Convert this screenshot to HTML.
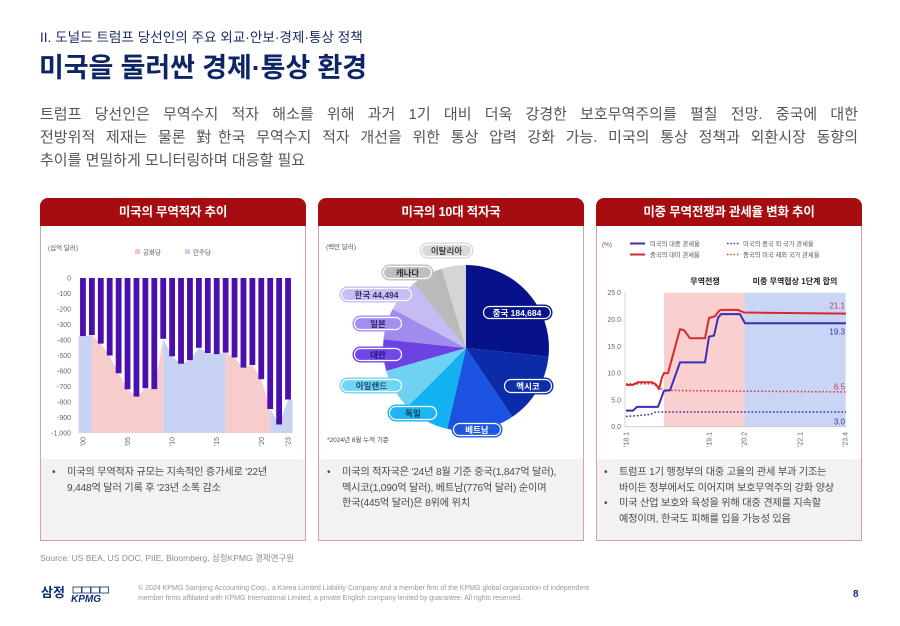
<!DOCTYPE html>
<html><head><meta charset="utf-8">
<style>
*{margin:0;padding:0;box-sizing:border-box}
body{width:900px;height:626px;background:#fff;position:relative;overflow:hidden;font-family:"Liberation Sans","Noto Sans CJK KR",sans-serif}
.abs{position:absolute}
.card{position:absolute;top:198px;width:266px;height:343px}
.card .hd{height:28px;background:#a50d10;border-radius:8px 8px 0 0;color:#fff;font-weight:bold;font-size:12.5px;line-height:28px;text-align:center;letter-spacing:-0.2px}
.card .bd{position:absolute;top:28px;left:0;right:0;bottom:0;border:1px solid #d9a0a0;border-top:none}
.card .gr{position:absolute;left:0;right:0;bottom:0;height:81px;background:#f2f2f2}
.bl{position:absolute;font-size:10.2px;line-height:15.5px;color:#4a4a4a;letter-spacing:-0.2px;white-space:nowrap}
.bl span.b{position:absolute;left:-15px}
.para div{white-space:nowrap}
</style></head><body>

<div class="abs" style="left:40px;top:29px;font-size:13.6px;line-height:18px;color:#1a2a66;white-space:nowrap;letter-spacing:0px">II. 도널드 트럼프 당선인의 주요 외교·안보·경제·통상 정책</div>
<div class="abs" style="left:39px;top:50px;font-size:27px;line-height:36px;color:#0d2566;font-weight:bold;white-space:nowrap;letter-spacing:-0.1px">미국을 둘러싼 경제·통상 환경</div>

<div class="abs para" style="left:40px;top:103px;width:818px;font-size:15px;line-height:23px;color:#555">
<div style="text-align:justify;text-align-last:justify;white-space:normal">트럼프 당선인은 무역수지 적자 해소를 위해 과거 1기 대비 더욱 강경한 보호무역주의를 펼칠 전망. 중국에 대한</div>
<div style="text-align:justify;text-align-last:justify;white-space:normal">전방위적 제재는 물론 對한국 무역수지 적자 개선을 위한 통상 압력 강화 가능. 미국의 통상 정책과 외환시장 동향의</div>
<div>추이를 면밀하게 모니터링하며 대응할 필요</div>
</div>

<div class="card" style="left:40px"><div class="hd">미국의 무역적자 추이</div><div class="bd"><div class="gr"></div></div></div>
<div class="card" style="left:318px"><div class="hd">미국의 10대 적자국</div><div class="bd"><div class="gr"></div></div></div>
<div class="card" style="left:596px"><div class="hd">미중 무역전쟁과 관세율 변화 추이</div><div class="bd"><div class="gr"></div></div></div>

<div class="bl" style="left:67px;top:465px"><span class="b">•</span>미국의 무역적자 규모는 지속적인 증가세로 '22년<br>9,448억 달러 기록 후 '23년 소폭 감소</div>
<div class="bl" style="left:342px;top:465px"><span class="b">•</span>미국의 적자국은 '24년 8월 기준 중국(1,847억 달러),<br>멕시코(1,090억 달러), 베트남(776억 달러) 순이며<br>한국(445억 달러)은 8위에 위치</div>
<div class="bl" style="left:619px;top:465px"><span class="b">•</span>트럼프 1기 행정부의 대중 고율의 관세 부과 기조는<br>바이든 정부에서도 이어지며 보호무역주의 강화 양상</div>
<div class="bl" style="left:619px;top:496px"><span class="b">•</span>미국 산업 보호와 육성을 위해 대중 견제를 지속할<br>예정이며, 한국도 피해를 입을 가능성 있음</div>

<div class="abs" style="left:40px;top:552px;font-size:8.5px;line-height:12px;color:#8c8c8c;white-space:nowrap">Source: US BEA, US DOC, PIIE, Bloomberg, 삼정KPMG 경제연구원</div>

<div class="abs" style="left:138px;top:584px;font-size:7.1px;line-height:9.8px;color:#9a9a9a;white-space:nowrap;letter-spacing:-0.05px">© 2024 KPMG Samjong Accounting Corp., a Korea Limited Liability Company and a member firm of the KPMG global organization of independent<br>member firms affiliated with KPMG International Limited, a private English company limited by guarantee. All rights reserved.</div>

<svg class="abs" style="left:0;top:0" width="900" height="626" viewBox="0 0 900 626" font-family="Liberation Sans, Noto Sans CJK KR, sans-serif">
<!-- Chart 1 -->
<g>
<path d="M78.5,433 L78.5,336.1 L82.96,336.1 L91.88,335.0 L91.88,433 Z" fill="#c8d2f2"/>
<path d="M91.88,433 L91.88,335.0 L100.79,343.6 L109.71,355.5 L118.63,373.3 L127.54,389.3 L136.46,396.6 L145.38,388.2 L154.29,389.1 L163.21,338.8 L163.21,433 Z" fill="#f7cccc"/>
<path d="M163.21,433 L163.21,338.8 L172.13,356.3 L181.04,363.7 L189.96,360.2 L198.88,347.8 L207.79,353.0 L216.71,354.1 L225.63,352.6 L225.63,433 Z" fill="#c8d2f2"/>
<path d="M225.63,433 L225.63,352.6 L234.54,357.5 L243.46,367.6 L252.38,365.0 L261.29,379.2 L270.21,409.0 L270.21,433 Z" fill="#f7cccc"/>
<path d="M270.21,433 L270.21,409.0 L279.13,424.5 L288.04,399.5 L292.5,399.5 L292.5,433 Z" fill="#c8d2f2"/>
<g fill="#4a0fad">
<rect x="80.06" y="278" width="5.8" height="58.1"/>
<rect x="88.98" y="278" width="5.8" height="57.0"/>
<rect x="97.89" y="278" width="5.8" height="65.6"/>
<rect x="106.81" y="278" width="5.8" height="77.5"/>
<rect x="115.73" y="278" width="5.8" height="95.3"/>
<rect x="124.64" y="278" width="5.8" height="111.3"/>
<rect x="133.56" y="278" width="5.8" height="118.6"/>
<rect x="142.48" y="278" width="5.8" height="110.2"/>
<rect x="151.39" y="278" width="5.8" height="111.1"/>
<rect x="160.31" y="278" width="5.8" height="60.8"/>
<rect x="169.23" y="278" width="5.8" height="78.3"/>
<rect x="178.14" y="278" width="5.8" height="85.7"/>
<rect x="187.06" y="278" width="5.8" height="82.2"/>
<rect x="195.98" y="278" width="5.8" height="69.8"/>
<rect x="204.89" y="278" width="5.8" height="75.0"/>
<rect x="213.81" y="278" width="5.8" height="76.1"/>
<rect x="222.73" y="278" width="5.8" height="74.6"/>
<rect x="231.64" y="278" width="5.8" height="79.5"/>
<rect x="240.56" y="278" width="5.8" height="89.6"/>
<rect x="249.48" y="278" width="5.8" height="87.0"/>
<rect x="258.39" y="278" width="5.8" height="101.2"/>
<rect x="267.31" y="278" width="5.8" height="131.0"/>
<rect x="276.23" y="278" width="5.8" height="146.5"/>
<rect x="285.14" y="278" width="5.8" height="121.5"/>
</g>
<g font-size="7" fill="#666" text-anchor="end">
<text x="71" y="280.5">0</text>
<text x="71" y="296">-100</text>
<text x="71" y="311.5">-200</text>
<text x="71" y="327">-300</text>
<text x="71" y="342.5">-400</text>
<text x="71" y="358">-500</text>
<text x="71" y="373.5">-600</text>
<text x="71" y="389">-700</text>
<text x="71" y="404.5">-800</text>
<text x="71" y="420">-900</text>
<text x="71" y="435.5">-1,000</text>
</g>
<g font-size="7" fill="#666" text-anchor="end">
<text transform="translate(85.5,437) rotate(-90)">'00</text>
<text transform="translate(130,437) rotate(-90)">'05</text>
<text transform="translate(174.6,437) rotate(-90)">'10</text>
<text transform="translate(219.2,437) rotate(-90)">'15</text>
<text transform="translate(263.8,437) rotate(-90)">'20</text>
<text transform="translate(290.5,437) rotate(-90)">'23</text>
</g>
<text x="48" y="250" font-size="6.5" fill="#555">(십억 달러)</text>
<rect x="135" y="249" width="5" height="5" fill="#f6c6c6"/>
<text x="143" y="254.5" font-size="6.5" fill="#555">공화당</text>
<rect x="185" y="249" width="5" height="5" fill="#c6d0f2"/>
<text x="193" y="254.5" font-size="6.5" fill="#555">민주당</text>
</g>

<!-- Chart 2 pie -->
<g>
<path d="M466,348 L466,265 A83,83 0 0 1 548.5,356.7 Z" fill="#06118a"/>
<path d="M466,348 L548.5,356.7 A83,83 0 0 1 512.4,416.8 Z" fill="#0b2ba8"/>
<path d="M466,348 L512.4,416.8 A83,83 0 0 1 447.3,428.9 Z" fill="#1b52e0"/>
<path d="M466,348 L447.3,428.9 A83,83 0 0 1 407.3,406.7 Z" fill="#12b2f0"/>
<path d="M466,348 L407.3,406.7 A83,83 0 0 1 386.2,370.9 Z" fill="#6fd2f3"/>
<path d="M466,348 L386.2,370.9 A83,83 0 0 1 383.5,339.3 Z" fill="#6c43e2"/>
<path d="M466,348 L383.5,339.3 A83,83 0 0 1 392.7,309.0 Z" fill="#a18bef"/>
<path d="M466,348 L392.7,309.0 A83,83 0 0 1 413.8,283.5 Z" fill="#c7bbf4"/>
<path d="M466,348 L413.8,283.5 A83,83 0 0 1 441.7,268.6 Z" fill="#bababa"/>
<path d="M466,348 L441.7,268.6 A83,83 0 0 1 466,265 Z" fill="#d5d5d5"/>
<g font-size="8.5" font-weight="bold" text-anchor="middle">
<rect x="420" y="243" width="53" height="15" rx="7.5" fill="#d9d9d9" stroke="#d9d9d9"/><rect x="421.5" y="244.5" width="50" height="12" rx="6" fill="none" stroke="#fff" stroke-width="1.2"/>
<text x="446.5" y="253.8" fill="#444">이탈리아</text>
<rect x="382" y="265" width="51" height="15" rx="7.5" fill="#bfbfbf" stroke="#bfbfbf"/><rect x="383.5" y="266.5" width="48" height="12" rx="6" fill="none" stroke="#fff" stroke-width="1.2"/>
<text x="407.5" y="275.8" fill="#333">캐나다</text>
<rect x="340" y="287" width="73" height="15" rx="7.5" fill="#c9bdf5" stroke="#c9bdf5"/><rect x="341.5" y="288.5" width="70" height="12" rx="6" fill="none" stroke="#fff" stroke-width="1.2"/>
<text x="376.5" y="297.8" fill="#3a2f6b">한국 44,494</text>
<rect x="353" y="316" width="50" height="15" rx="7.5" fill="#a48ef0" stroke="#a48ef0"/><rect x="354.5" y="317.5" width="47" height="12" rx="6" fill="none" stroke="#fff" stroke-width="1.2"/>
<text x="378" y="326.8" fill="#2e2070">일본</text>
<rect x="353" y="347" width="50" height="15" rx="7.5" fill="#7048e8" stroke="#7048e8"/><rect x="354.5" y="348.5" width="47" height="12" rx="6" fill="none" stroke="#fff" stroke-width="1.2"/>
<text x="378" y="357.8" fill="#2a1270">대만</text>
<rect x="340" y="378" width="63" height="15" rx="7.5" fill="#72d4f5" stroke="#72d4f5"/><rect x="341.5" y="379.5" width="60" height="12" rx="6" fill="none" stroke="#fff" stroke-width="1.2"/>
<text x="371.5" y="388.8" fill="#1d4a6a">아일랜드</text>
<rect x="388" y="405" width="50" height="16" rx="8" fill="#1db5f2" stroke="#1db5f2"/><rect x="389.5" y="406.5" width="47" height="13" rx="6.5" fill="none" stroke="#fff" stroke-width="1.2"/>
<text x="413" y="416.3" fill="#0b3a5a">독일</text>
<rect x="452" y="422" width="50" height="15" rx="7.5" fill="#1f56e0" stroke="#1f56e0"/><rect x="453.5" y="423.5" width="47" height="12" rx="6" fill="none" stroke="#fff" stroke-width="1.2"/>
<text x="477" y="432.8" fill="#fff">베트남</text>
<rect x="503" y="378" width="50" height="16" rx="8" fill="#0c2fa8" stroke="#0c2fa8"/><rect x="504.5" y="379.5" width="47" height="13" rx="6.5" fill="none" stroke="#fff" stroke-width="1.2"/>
<text x="528" y="389.3" fill="#fff">멕시코</text>
<rect x="482" y="305" width="70" height="15" rx="7.5" fill="#07148a" stroke="#07148a"/><rect x="483.5" y="306.5" width="67" height="12" rx="6" fill="none" stroke="#fff" stroke-width="1.2"/>
<text x="517" y="315.8" fill="#fff">중국 184,684</text>
</g>
<text x="326" y="249" font-size="6.5" fill="#555">(백만 달러)</text>
<text x="327" y="442" font-size="6.5" fill="#444">*2024년 8월 누적 기준</text>
</g>

<!-- Chart 3 -->
<g>
<rect x="664" y="292.7" width="80.3" height="134" fill="#f9cfcf"/>
<rect x="744.3" y="292.7" width="101.4" height="134" fill="#c9d5f5"/>
<line x1="625" y1="292" x2="625" y2="426.7" stroke="#c8c8c8" stroke-width="0.8"/>
<line x1="625" y1="426.7" x2="846" y2="426.7" stroke="#c8c8c8" stroke-width="0.8"/>
<g font-size="7" fill="#666" text-anchor="end">
<text x="621" y="295.2">25.0</text>
<text x="621" y="322">20.0</text>
<text x="621" y="348.8">15.0</text>
<text x="621" y="375.6">10.0</text>
<text x="621" y="402.4">5.0</text>
<text x="621" y="429.2">0.0</text>
</g>
<g font-size="7" fill="#666" text-anchor="end">
<text transform="translate(628.5,432) rotate(-90)">'18.1</text>
<text transform="translate(711.5,432) rotate(-90)">'19.1</text>
<text transform="translate(746.5,432) rotate(-90)">'20.2</text>
<text transform="translate(802.5,432) rotate(-90)">'22.1</text>
<text transform="translate(847.5,432) rotate(-90)">'23.4</text>
</g>
<polyline fill="none" stroke="#d8404f" stroke-width="1.6" stroke-dasharray="1.6,2" points="626,383.8 652,383.8 658,386.5 664,390.3 700,390.8 846,391.9"/>
<polyline fill="none" stroke="#3b2db8" stroke-width="1.6" stroke-dasharray="1.6,2" points="626,416.5 640,415.4 650,414.4 656,412 846,412"/>
<polyline fill="none" stroke="#d42b2b" stroke-width="2" stroke-linejoin="round" points="626,384.9 633,384.9 638,382.2 652,382.2 656,384.4 659,389.2 662,377.4 664,373.1 668,373.1 680,329.1 684,330.2 690,338.3 705,338.3 709,317.9 715,316.3 719,310.9 721,309.9 738,309.9 744,312.5 846,313.6"/>
<polyline fill="none" stroke="#3b2db8" stroke-width="2" stroke-linejoin="round" points="626,410.6 633,410.6 637,406.9 658,406.9 664,390.8 670,390.3 680,362.4 705,362.4 709,336.7 714,335.6 718,317.9 721,314.1 740,314.1 745,323.3 846,323.3"/>
<g font-size="8" text-anchor="end">
<text x="845" y="308.5" fill="#c8374f">21.1</text>
<text x="845" y="334.5" fill="#3b2db8">19.3</text>
<text x="845" y="389.5" fill="#c8374f">6.5</text>
<text x="845" y="424.5" fill="#3b2db8">3.0</text>
</g>
<g font-size="8" font-weight="bold" fill="#222" text-anchor="middle">
<text x="705" y="284">무역전쟁</text>
<text x="795" y="284">미중 무역협상 1단계 합의</text>
</g>
<g font-size="6.3" fill="#555">
<text x="602" y="246.5">(%)</text>
<line x1="630" y1="243.5" x2="645" y2="243.5" stroke="#3b2db8" stroke-width="2"/>
<text x="650" y="246">미국의 대중 관세율</text>
<line x1="630" y1="254.5" x2="645" y2="254.5" stroke="#d42b2b" stroke-width="2"/>
<text x="650" y="257">중국의 대미 관세율</text>
<line x1="727" y1="243.5" x2="739" y2="243.5" stroke="#3b2db8" stroke-width="1.5" stroke-dasharray="1.5,1.8"/>
<text x="743" y="246">미국의 중국 외 국가 관세율</text>
<line x1="727" y1="254.5" x2="739" y2="254.5" stroke="#d8404f" stroke-width="1.5" stroke-dasharray="1.5,1.8"/>
<text x="743" y="257">중국의 미국 제외 국가 관세율</text>
</g>
</g>

<!-- Footer logo -->
<g>
<text x="41" y="597" font-size="13" font-weight="bold" fill="#0b2b74">삼정</text>
<g fill="none" stroke="#0b2b74" stroke-width="0.8">
<rect x="73" y="587" width="8.5" height="6"/>
<rect x="82" y="587" width="8.5" height="6"/>
<rect x="91" y="587" width="8.5" height="6"/>
<rect x="100" y="587" width="8.5" height="6"/>
</g>
<text x="71" y="602" font-size="10" font-weight="bold" font-style="italic" fill="#0b2b74">KPMG</text>
<text x="853" y="597" font-size="10" font-weight="bold" fill="#0b2b74">8</text>
</g>
</svg>
</body></html>
